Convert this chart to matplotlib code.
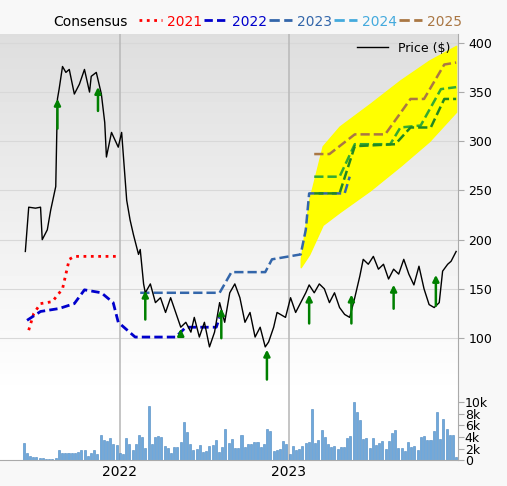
import numpy as np
import matplotlib
matplotlib.use('Agg')
import matplotlib.pyplot as plt
from matplotlib.lines import Line2D

# precio (anio fraccional, $)
price_t = [2021.44,2021.46,2021.50,2021.53,2021.54,2021.57,2021.59,2021.62,2021.63,2021.64,2021.66,2021.68,2021.70,2021.73,2021.76,2021.79,2021.82,2021.83,2021.86,2021.89,2021.91,2021.92,2021.95,2021.99,2022.01,2022.04,2022.06,2022.08,2022.11,2022.12,2022.14,2022.15,2022.18,2022.21,2022.24,2022.27,2022.30,2022.33,2022.36,2022.39,2022.42,2022.44,2022.47,2022.50,2022.53,2022.56,2022.59,2022.62,2022.65,2022.68,2022.71,2022.74,2022.77,2022.80,2022.83,2022.86,2022.88,2022.91,2022.93,2022.98,2023.01,2023.04,2023.07,2023.10,2023.12,2023.15,2023.18,2023.21,2023.24,2023.27,2023.30,2023.33,2023.36,2023.39,2023.42,2023.44,2023.47,2023.50,2023.53,2023.56,2023.59,2023.62,2023.65,2023.68,2023.71,2023.74,2023.77,2023.80,2023.83,2023.86,2023.89,2023.91,2023.94,2023.96,2023.99]
price = [188,233,232,233,200,210,230,254,343,353,376,370,373,348,358,373,350,366,370,348,319,284,309,294,309,240,220,205,185,190,155,146,155,136,141,126,141,126,111,116,106,121,101,116,91,106,136,116,146,155,141,116,126,101,111,91,96,111,126,121,141,126,136,146,154,146,155,150,136,146,131,124,121,141,163,180,175,183,170,175,160,170,165,180,165,154,173,150,134,131,136,168,175,178,188]

c2021_t = [2021.46,2021.49,2021.53,2021.60,2021.66,2021.70,2021.73,2022.00]
c2021 = [108,125,135,137,150,180,183,183]
c2022_t = [2021.45,2021.53,2021.64,2021.73,2021.79,2021.89,2021.96,2021.99,2022.09,2022.15,2022.33,2022.36,2022.39,2022.57,2022.59]
c2022 = [118,127,130,135,149,146,136,116,101,101,101,106,111,111,121]
c2023_t = [2022.12,2022.59,2022.66,2022.86,2022.90,2023.07,2023.10,2023.12,2023.33,2023.36]
c2023 = [146,146,167,167,180,185,210,247,247,264]
c2024a_t = [2023.15,2023.30,2023.39,2023.60,2023.66,2023.78,2023.90,2023.99]
c2024a = [264,264,297,297,314,316,353,355]
c2024b_t = [2023.15,2023.30,2023.39,2023.63,2023.72,2023.84,2023.92,2023.99]
c2024b = [247,247,295,297,314,314,343,343]
c2025_t = [2023.15,2023.24,2023.39,2023.57,2023.72,2023.80,2023.92,2023.99]
c2025 = [287,287,307,307,343,343,378,380]

band_t = [2023.07,2023.12,2023.20,2023.30,2023.48,2023.66,2023.83,2023.99]
band_lo = [172,185,215,228,250,275,300,330]
band_hi = [180,240,295,315,338,362,382,397]

# flechas de revision (anio, desde, hasta)
arrows = [(2021.63,310,346),(2021.87,328,358),(2022.15,116,151),(2022.36,102,112),(2022.60,97,133),(2022.87,55,91),(2023.12,112,147),(2023.37,112,147),(2023.62,127,157),(2023.87,130,167)]

vol = [2.9,1.3,0.8,0.6,0.5,0.4,0.3,0.2,0.2,0.2,0.4,1.8,1.2,1.2,1.2,1.2,1.3,1.4,1.7,1.7,0.8,1.3,1.7,1.1,4.3,3.4,3.3,3.8,2.7,2.6,1.3,1.0,
       3.8,2.7,1.7,2.8,4.3,3.9,2.1,9.3,2.7,3.9,4.2,4.0,2.4,2.1,1.3,2.2,2.3,3.1,6.5,4.8,2.8,1.8,1.9,2.6,1.4,1.6,2.4,2.6,3.5,1.4,2.3,5.3,2.9,3.6,2.1,2.1,4.3,2.3,2.8,2.8,3.1,3.2,2.2,2.8,5.3,5.0,
       1.5,1.8,2.0,3.3,2.7,1.1,2.5,1.8,2.0,2.4,3.0,3.1,8.8,2.9,3.5,5.2,3.9,2.7,2.2,2.5,2.0,2.3,2.3,3.8,4.2,10.0,8.3,6.9,3.6,3.8,2.1,3.8,2.6,2.9,3.3,2.0,3.3,4.6,5.2,2.1,2.1,1.6,3.2,2.3,2.4,1.8,4.0,4.1,3.4,3.4,5.0,8.2,3.6,7.1,5.3,4.4,4.3,0.5]
vol_t = np.linspace(2021.43, 2023.99, len(vol))

xmin, xmax = 2021.29, 2024.0

fig = plt.figure(figsize=(5.07, 4.86), dpi=100)
fig.patch.set_facecolor('#f8f8f8')
ax = fig.add_axes([0.0, 0.185, 0.903, 0.745])
axv = fig.add_axes([0.0, 0.053, 0.903, 0.132])

# fondo degradado (gris arriba, blanco abajo)
grad = np.linspace(0.87, 1.0, 100).reshape(-1, 1)
ax.imshow(grad, cmap='gray', vmin=0, vmax=1, aspect='auto', extent=[xmin, xmax, 41, 409], origin='upper', zorder=0)
ax.set_xlim(xmin, xmax)
ax.set_ylim(41, 409)

for yv in [100, 150, 200, 250, 300, 350, 400]:
    ax.axhline(yv, color='#d8d8d8', lw=0.8, zorder=1)
for xv in [2022, 2023]:
    ax.axvline(xv, color='#bbbbbb', lw=1.2, zorder=1)
    axv.axvline(xv, color='#bbbbbb', lw=1.2, zorder=1)

ax.fill_between(band_t, band_lo, band_hi, color='#ffff00', zorder=2)
ax.plot(c2021_t, c2021, color='red', ls=':', lw=2, zorder=3)
ax.plot(c2022_t, c2022, color='#0000cc', ls=(0, (3, 1.5)), lw=2, zorder=3)
ax.plot(c2023_t, c2023, color='#3366aa', ls='--', lw=1.8, zorder=3)
ax.plot(c2024a_t, c2024a, color='#33aa33', ls='--', lw=1.8, zorder=3)
ax.plot(c2024b_t, c2024b, color='#228822', ls='--', lw=1.8, zorder=3)
ax.plot(c2025_t, c2025, color='#aa7744', ls='--', lw=1.8, zorder=3)
ax.plot(price_t, price, color='black', lw=1, zorder=4)
for t, y0, y1 in arrows:
    ax.annotate('', xy=(t, y1), xytext=(t, y0),
                arrowprops=dict(arrowstyle='-|>', color='green', lw=1.8, mutation_scale=9), zorder=5)

ax.yaxis.tick_right()
ax.set_yticks([100, 150, 200, 250, 300, 350, 400])
ax.tick_params(axis='y', labelsize=9, length=4, color='#aaaaaa')
ax.set_xticks([])
for s in ['top', 'left', 'bottom']:
    ax.spines[s].set_visible(False)
ax.spines['right'].set_color('#aaaaaa')
ax.legend([Line2D([], [], color='black', lw=1)], ['Price ($)'], loc='upper right',
          frameon=False, fontsize=9, borderaxespad=0.2, handlelength=2.5)

axv.set_facecolor('white')
axv.bar(vol_t, vol, width=0.012, color='#6fa8dc', edgecolor='#4a86c0', lw=0.4, zorder=2)
axv.set_xlim(xmin, xmax)
axv.set_ylim(0, 11)
axv.yaxis.tick_right()
axv.set_yticks([0, 2, 4, 6, 8, 10])
axv.set_yticklabels(['0', '2k', '4k', '6k', '8k', '10k'])
axv.tick_params(axis='y', labelsize=9, length=4, color='#aaaaaa', pad=1)
axv.set_xticks([2022, 2023])
axv.set_xticklabels(['2022', '2023'])
axv.tick_params(axis='x', labelsize=10, length=0)
for s in ['top', 'left']:
    axv.spines[s].set_visible(False)
axv.spines['right'].set_color('#aaaaaa')
axv.spines['bottom'].set_color('#aaaaaa')

# leyenda consenso
fig.text(0.105, 0.955, 'Consensus', fontsize=10, va='center')
items = [('2021', 'red', ':'), ('2022', '#0000cc', (0, (3, 1.5))), ('2023', '#3366aa', '--'),
         ('2024', '#44aadd', '--'), ('2025', '#aa7744', '--')]
x0 = 0.275
for lab, col, ls in items:
    fig.add_artist(Line2D([x0, x0 + 0.045], [0.958, 0.958], color=col, ls=ls, lw=2))
    fig.text(x0 + 0.055, 0.955, lab, color=col, fontsize=10, va='center')
    x0 += 0.128

fig.savefig('out.png', dpi=100, facecolor=fig.get_facecolor())
